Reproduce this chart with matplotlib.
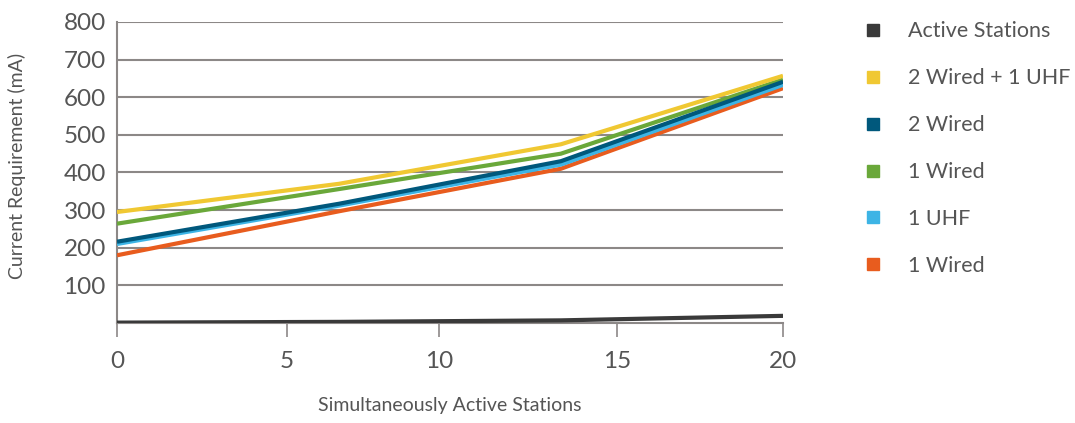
import matplotlib
matplotlib.use("Agg")
import matplotlib.pyplot as plt
from matplotlib.lines import Line2D

plt.rcParams['font.family'] = ['Lato', 'DejaVu Sans']

# data points sit at four evenly spaced positions across the axis
x_pts = [0, 6.67, 13.33, 20]

active_stations = [1, 3, 7, 19]
wired2_uhf1 = [295, 370, 475, 657]
wired2 = [216, 317, 430, 641]
wired1_green = [264, 356, 450, 647]
uhf1 = [210, 312, 421, 633]
wired1_orange = [180, 297, 410, 624]

series_labels = ["Active Stations", "2 Wired + 1 UHF", "2 Wired", "1 Wired", "1 UHF", "1 Wired"]
series_colors = ["#3a3a3a", "#f0c832", "#00587c", "#6aa83a", "#3db4e5", "#e85c1e"]

x_tick_labels = ["0", "5", "10", "15", "20"]
y_ticks = [100, 200, 300, 400, 500, 600, 700, 800]

fig = plt.figure(figsize=(10.75, 4.23), dpi=100)
ax = fig.add_axes([117 / 1075, 1 - 323 / 423, 666 / 1075, 301 / 423])

grid_col = "#8c8887"
text_col = "#555555"

# draw order: lower lines first, so the dark blue sits on the light blue
ax.plot(x_pts, wired1_orange, color=series_colors[5], lw=3, zorder=3, solid_capstyle="butt")
ax.plot(x_pts, uhf1, color=series_colors[4], lw=3, zorder=3, solid_capstyle="butt")
ax.plot(x_pts, wired1_green, color=series_colors[3], lw=3, zorder=3, solid_capstyle="butt")
ax.plot(x_pts, wired2, color=series_colors[2], lw=3, zorder=4, solid_capstyle="butt")
ax.plot(x_pts, wired2_uhf1, color=series_colors[1], lw=3, zorder=3, solid_capstyle="butt")
ax.plot(x_pts, active_stations, color=series_colors[0], lw=3, zorder=5, solid_capstyle="butt")

ax.set_xlim(0, 20)
ax.set_ylim(0, 800)

# tick marks on the original are unevenly placed
ax.set_xticks([0, 5.11, 9.66, 15.02, 20])
ax.set_xticklabels(x_tick_labels)
ax.set_yticks(y_ticks)
ax.set_yticklabels([str(v) for v in y_ticks])

ax.grid(axis="y", color=grid_col, lw=1.5)
ax.set_axisbelow(True)
for s in ["top", "right"]:
    ax.spines[s].set_visible(False)
ax.spines["left"].set_color(grid_col)
ax.spines["left"].set_linewidth(1.5)
ax.spines["bottom"].set_color(grid_col)
ax.spines["bottom"].set_linewidth(1.5)

ax.tick_params(axis="x", direction="out", length=10, width=1.2, color=grid_col,
               labelsize=17.5, labelcolor=text_col, pad=10)
ax.tick_params(axis="y", length=0, labelsize=17.5, labelcolor=text_col, pad=8)

ax.set_xlabel("Simultaneously Active Stations", fontsize=14, color=text_col, labelpad=18)
fig.text(17 / 1075, 1 - 166 / 423, "Current Requirement (mA)", rotation=90,
         fontsize=14, color=text_col, ha="center", va="center")

handles = [Line2D([], [], marker="s", color=c, ls="none", markersize=8) for c in series_colors]
leg = fig.legend(handles, series_labels, loc="upper left",
                 bbox_to_anchor=(841 / 1075, 1 - 2 / 423), frameon=False,
                 fontsize=15.5, labelspacing=1.25, handletextpad=1.0, handlelength=1.2)
for t in leg.get_texts():
    t.set_color(text_col)

fig.savefig("out.png", dpi=100)
